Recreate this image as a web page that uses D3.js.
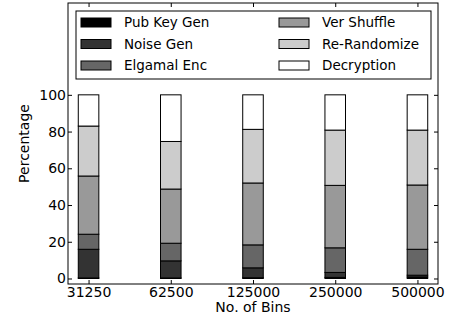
<!DOCTYPE html>
<html><head><meta charset="utf-8">
<script src="https://cdn.jsdelivr.net/npm/d3@7/dist/d3.min.js"></script>
<style>body{margin:0;background:#fff}svg{display:block}text{font-family:"DejaVu Sans",sans-serif}</style>
</head><body><svg id="c" width="461" height="324"></svg>
<script>
const categories = ["31250","62500","125000","250000","500000"];
const seriesNames = ["Pub Key Gen","Noise Gen","Elgamal Enc","Ver Shuffle","Re-Randomize","Decryption"];
const pubKeyGen  = [0.3, 0.3, 0.4, 0.6, 0.8];
const noiseGen   = [15.6, 9.3, 5.4, 2.7, 1.0];
const elgamalEnc = [8.2, 9.6, 12.5, 13.4, 14.1];
const verShuffle = [31.7, 29.5, 33.7, 34.0, 35.0];
const reRandomize= [27.2, 25.9, 29.2, 30.1, 29.9];
const decryption = [17.0, 25.4, 18.8, 19.2, 19.2];
const yTicks = [0,20,40,60,80,100];
const colors = ["#000000","#333333","#666666","#999999","#cccccc","#ffffff"];

const seriesValues = [pubKeyGen,noiseGen,elgamalEnc,verShuffle,reRandomize,decryption];
const table = categories.map((c,i)=>{const o={cat:c,idx:i};seriesNames.forEach((s,j)=>o[s]=seriesValues[j][i]);return o;});
const stack = d3.stack().keys(seriesNames)(table);

const svg = d3.select("#c");
const L=68,R=438,T=3,B=284;
const x = d3.scaleLinear().domain([-0.25,4.25]).range([L,R]);
const y = d3.scaleLinear().domain([-3,150]).range([B,T]);
const bw = 0.25;

const g = svg.append("g");
stack.forEach((layer,j)=>{
  g.selectAll(null).data(layer).enter().append("rect")
    .attr("x",d=>x(d.data.idx-bw/2)).attr("width",x(bw)-x(0))
    .attr("y",d=>y(d[1])).attr("height",d=>y(d[0])-y(d[1]))
    .attr("fill",colors[j]).attr("stroke","#000").attr("stroke-width",1);
});

const fs = "14px";
const xa = d3.axisBottom(x).tickValues(d3.range(categories.length)).tickFormat(i=>categories[i]).tickSize(-4).tickPadding(3);
const gx = svg.append("g").attr("transform",`translate(0,${B})`).call(xa);
const xt = d3.axisTop(x).tickValues(d3.range(categories.length)).tickFormat("").tickSize(-4);
const gxt = svg.append("g").attr("transform",`translate(0,${T})`).call(xt);
const ya = d3.axisLeft(y).tickValues(yTicks).tickSize(-4).tickPadding(2);
const gy = svg.append("g").attr("transform",`translate(${L},0)`).call(ya);
const yr = d3.axisRight(y).tickValues(yTicks).tickFormat("").tickSize(-4);
const gyr = svg.append("g").attr("transform",`translate(${R},0)`).call(yr);
[gx,gxt,gy,gyr].forEach(a=>{a.select(".domain").remove();a.selectAll("text").attr("font-size",fs).attr("font-family","DejaVu Sans").attr("fill","#000");a.selectAll("line").attr("stroke","#000");});
svg.append("rect").attr("x",L).attr("y",T).attr("width",R-L).attr("height",B-T).attr("fill","none").attr("stroke","#000").attr("stroke-width",1);

svg.append("text").attr("x",253).attr("y",312).attr("text-anchor","middle").attr("font-size",fs).text("No. of Bins");
svg.append("text").attr("transform",`translate(29,${(T+B)/2}) rotate(-90)`).attr("text-anchor","middle").attr("font-size",fs).text("Percentage");

const lg = svg.append("g");
lg.append("rect").attr("x",76).attr("y",11).attr("width",355).attr("height",68).attr("fill","#fff").attr("stroke","#000").attr("stroke-width",1);
seriesNames.forEach((s,j)=>{
  const col = Math.floor(j/3), row = j%3;
  const hx = col===0?81:279, cy = 22.5+row*21.5;
  lg.append("rect").attr("x",hx).attr("y",cy-4.5).attr("width",30).attr("height",9).attr("fill",colors[j]).attr("stroke","#000").attr("stroke-width",1);
  lg.append("text").attr("x",hx+43).attr("y",cy).attr("dy","0.35em").attr("font-size","13.5px").text(s);
});
</script></body></html>
